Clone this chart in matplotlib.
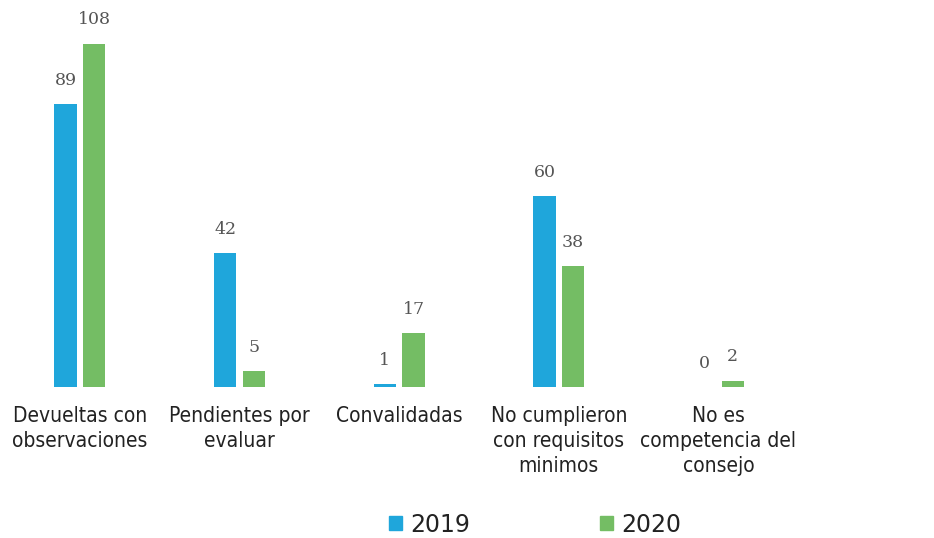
import numpy as np
import matplotlib
matplotlib.use('Agg')
from matplotlib import pyplot as plt
from matplotlib.patches import Patch

categories = ['Devueltas con\nobservaciones', 'Pendientes por\nevaluar', 'Convalidadas',
              'No cumplieron\ncon requisitos\nminimos', 'No es\ncompetencia del\nconsejo']
years = ['2019', '2020']
vals_2019 = [89, 42, 1, 60, 0]
vals_2020 = [108, 5, 17, 38, 2]

blue = '#1fa6db'
green = '#74bd64'

plt.rcParams['font.family'] = ['DejaVu Sans']

fig = plt.figure(figsize=(9.34, 5.38), dpi=100)
ax = fig.add_axes([0.0, 0.2807, 1.0, 0.709])

x = np.arange(len(categories))
w = 0.14
off = 0.09
b1 = ax.bar(x - off, vals_2019, w, color=blue)
b2 = ax.bar(x + off, vals_2020, w, color=green)

for bars, vals in ((b1, vals_2019), (b2, vals_2020)):
    for b, v in zip(bars, vals):
        ax.annotate(str(v), (b.get_x() + b.get_width() / 2, v), xytext=(0, 11),
                    textcoords='offset points', ha='center', va='bottom',
                    fontsize=12.5, color='#555555', family='DejaVu Serif')

ax.set_xlim(-0.5, 5.35)
ax.set_ylim(0, 120)
ax.set_xticks(x)
ax.set_xticklabels(categories, fontsize=15, color='#222222', linespacing=1.3,
                   fontstretch='condensed')
ax.tick_params(axis='x', length=0, pad=14)
ax.set_yticks([])
for s in ax.spines.values():
    s.set_visible(False)

handles = [Patch(color=blue, label=years[0]), Patch(color=green, label=years[1])]
fig.legend(handles=handles, loc='center', bbox_to_anchor=(0.573, 0.025), ncol=2,
           frameon=False, fontsize=17, handlelength=0.55, handleheight=0.55,
           columnspacing=5.5, handletextpad=0.35, labelcolor='#222222')

fig.savefig('out.png', dpi=100)
